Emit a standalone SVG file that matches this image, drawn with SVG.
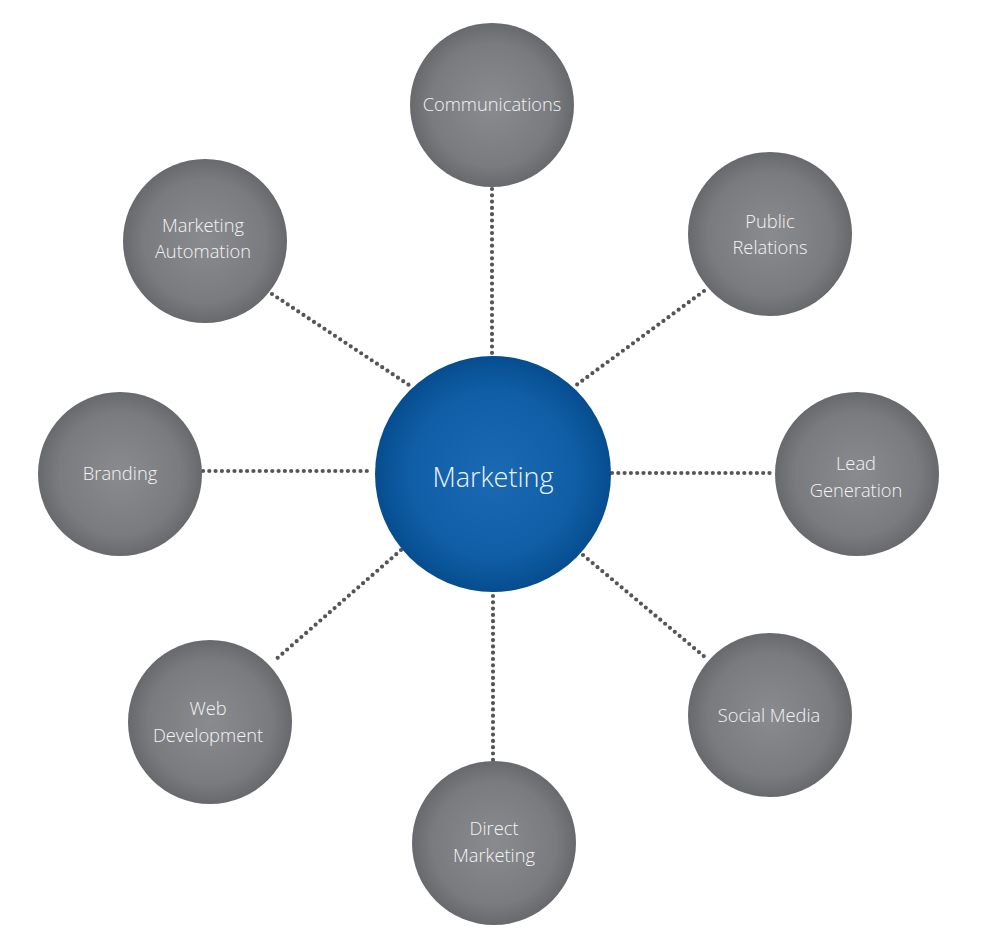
<svg xmlns="http://www.w3.org/2000/svg" width="1008" height="948" viewBox="0 0 1008 948">
<defs>
<radialGradient id="gGray" cx="50%" cy="50%" r="50%">
<stop offset="0" stop-color="#8a8b8f"/>
<stop offset="0.75" stop-color="#7a7b7f"/>
<stop offset="1" stop-color="#68696d"/>
</radialGradient>
<radialGradient id="gBlue" cx="50%" cy="50%" r="50%">
<stop offset="0" stop-color="#1a69b3"/>
<stop offset="0.7" stop-color="#105ea6"/>
<stop offset="1" stop-color="#064d8f"/>
</radialGradient>
</defs>
<style>
.conn line{stroke:#555558;stroke-width:4.2;stroke-linecap:round;stroke-dasharray:0 6.3;fill:none}
.node circle{fill:url(#gGray)}
.node text{font-family:"Open Sans","Liberation Sans",sans-serif;font-weight:300;font-size:18.3px;fill:#f4f4f4;text-anchor:middle}
#marketing circle{fill:url(#gBlue)}
#marketing text{font-size:27px;fill:#eef3fa}
</style>
<rect width="1008" height="948" fill="#ffffff"/>
<g id="connectors" class="conn">
<line x1="492" y1="189" x2="492" y2="354"/>
<line x1="704" y1="291" x2="575" y2="386"/>
<line x1="612" y1="473" x2="773" y2="473"/>
<line x1="583" y1="555" x2="706" y2="658"/>
<line x1="493" y1="596" x2="493" y2="762"/>
<line x1="401" y1="550" x2="274" y2="661"/>
<line x1="203" y1="471" x2="372" y2="471"/>
<line x1="272" y1="294" x2="412" y2="387"/>
</g>
<g id="marketing" class="node">
<circle cx="493" cy="474" r="118"/>
<text x="493" y="487">Marketing</text>
</g>
<g id="communications" class="node">
<circle cx="492" cy="105" r="82"/>
<text x="492" y="111">Communications</text>
</g>
<g id="public-relations" class="node">
<circle cx="770" cy="234" r="82"/>
<text x="770" y="228">Public</text>
<text x="770" y="254">Relations</text>
</g>
<g id="lead-generation" class="node">
<circle cx="857" cy="474" r="82"/>
<text x="856" y="470">Lead</text>
<text x="856" y="497">Generation</text>
</g>
<g id="social-media" class="node">
<circle cx="770" cy="715" r="82"/>
<text x="769" y="722">Social Media</text>
</g>
<g id="direct-marketing" class="node">
<circle cx="494" cy="843" r="82"/>
<text x="494" y="835">Direct</text>
<text x="494" y="862">Marketing</text>
</g>
<g id="web-development" class="node">
<circle cx="210" cy="722" r="82"/>
<text x="208" y="715">Web</text>
<text x="208" y="742">Development</text>
</g>
<g id="branding" class="node">
<circle cx="120" cy="474" r="82"/>
<text x="120" y="480">Branding</text>
</g>
<g id="marketing-automation" class="node">
<circle cx="205" cy="241" r="82"/>
<text x="203" y="232">Marketing</text>
<text x="203" y="258">Automation</text>
</g>
</svg>
